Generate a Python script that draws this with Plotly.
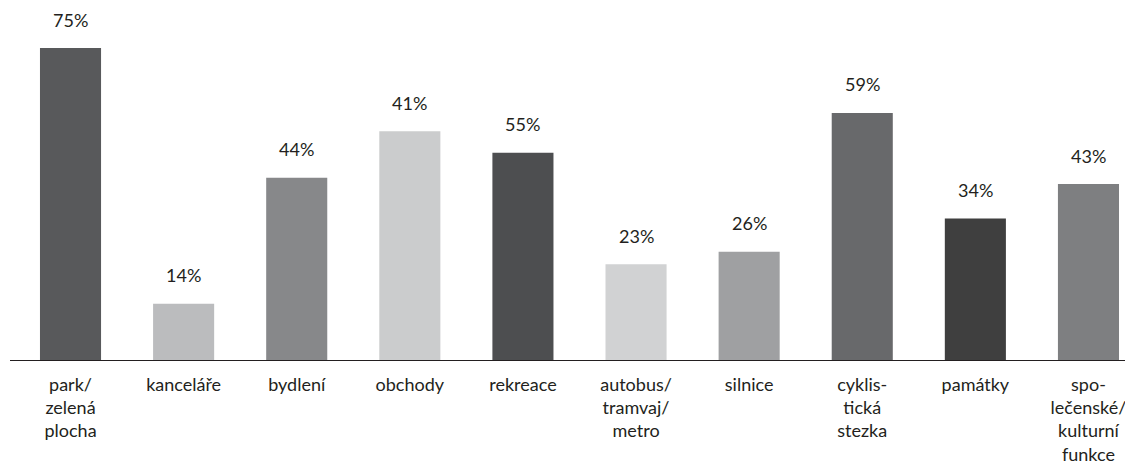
import plotly.graph_objects as go

categories = ["park/<br>zelená<br>plocha", "kanceláře", "bydlení", "obchody", "rekreace",
              "autobus/<br>tramvaj/<br>metro", "silnice", "cyklis-<br>tická<br>stezka",
              "památky", "spo-<br>lečenské/<br>kulturní<br>funkce"]
# bar heights as drawn in the picture (percent scale)
bar_heights = [75, 13.5, 43.8, 55, 49.8, 23, 26, 59.4, 34, 42.3]
# printed value labels
value_labels = ["75%", "14%", "44%", "41%", "55%", "23%", "26%", "59%", "34%", "43%"]
bar_colors = ["#58595b", "#bbbcbe", "#87888a", "#cbcccd", "#4d4e50",
              "#d1d2d3", "#9fa0a2", "#68696b", "#3f3f3f", "#7e7f81"]

x = list(range(len(categories)))

fig = go.Figure()
fig.add_trace(go.Bar(x=x, y=bar_heights, marker=dict(color=bar_colors, line=dict(width=0)),
                     width=0.54, hoverinfo="skip"))

for xi, h, t in zip(x, bar_heights, value_labels):
    fig.add_annotation(x=xi, y=h, text=t, showarrow=False, yanchor="middle",
                       yshift=28.5, font=dict(size=18, color="#231f20"))

fig.update_layout(
    width=1125, height=468,
    margin=dict(l=0, r=0, t=0, b=108),
    plot_bgcolor="white", paper_bgcolor="white",
    font=dict(family="Lato", size=18, color="#231f20"),
    showlegend=False,
    xaxis=dict(range=[-0.535, 9.323], tickmode="array", tickvals=x, ticktext=categories,
               showline=True, linecolor="#231f20", linewidth=1, ticks="",
               ticklabelstandoff=8, ticklabeloverflow="allow",
               showgrid=False, zeroline=False, tickfont=dict(size=18, color="#231f20"),
               fixedrange=True, automargin=False),
    yaxis=dict(range=[0, 86.54], visible=False, showgrid=False, zeroline=False,
               fixedrange=True),
)
fig.update_xaxes(domain=[10/1125, 1.0])

fig.write_html("out.html")
